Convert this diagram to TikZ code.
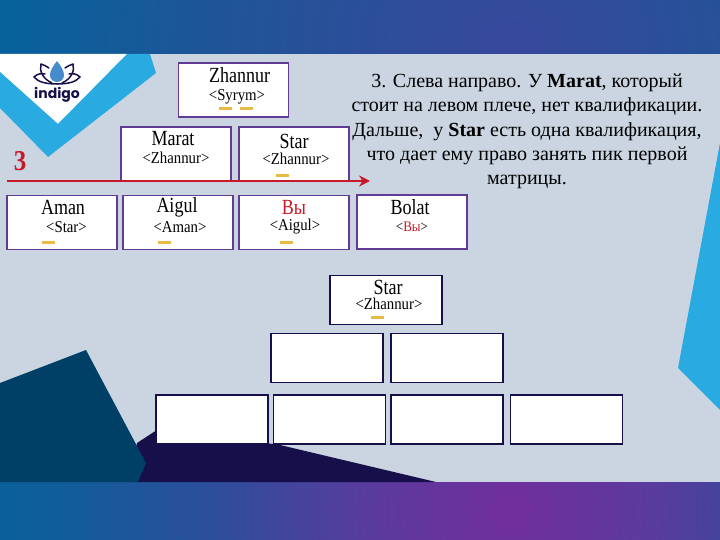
\documentclass[tikz,border=0pt]{standalone}
\usepackage{fontspec}
\setmainfont{Liberation Serif}
\newfontfamily\logofont{Poppins}
\usepackage{xcolor}
\usepackage{tikz}
\usetikzlibrary{arrows.meta, positioning, calc}
\definecolor{mypaper}{RGB}{202,213,225}
\definecolor{mysky}{RGB}{41,171,226}
\definecolor{myteal}{RGB}{0,63,102}
\definecolor{mynavy}{RGB}{23,15,73}
\definecolor{myband}{RGB}{0,101,155}
\definecolor{myviolet}{RGB}{98,60,148}
\definecolor{myred}{RGB}{200,25,40}
\definecolor{myamber}{RGB}{232,186,70}
\definecolor{mydrop}{RGB}{70,140,205}
\definecolor{topa}{RGB}{56,72,156}
\definecolor{topb}{RGB}{32,84,152}
\definecolor{bota}{RGB}{114,46,156}
\definecolor{botb}{RGB}{90,59,158}
\definecolor{botc}{RGB}{45,78,154}
\definecolor{botd}{RGB}{18,92,154}
\pgfdeclareradialshading{topglow}{\pgfpoint{0bp}{0bp}}{
  color(0bp)=(topa); color(11.8bp)=(topb); color(23.6bp)=(myband); color(50bp)=(myband)}
\pgfdeclareradialshading{bottomglow}{\pgfpoint{0bp}{0bp}}{
  color(0bp)=(bota); color(5.9bp)=(botb); color(12.4bp)=(botc);
  color(18.3bp)=(botd); color(24.7bp)=(myband); color(50bp)=(myband)}
\tikzset{
  box/.style={rectangle, draw=myviolet, fill=white, line width=1.5pt,
    minimum width=110pt, minimum height=54pt, inner sep=0pt},
  darkbox/.style={box, draw=mynavy, minimum width=112pt, minimum height=49pt},
  namelab/.style={font=\fontsize{18}{18}\selectfont, inner sep=0pt, yscale=1.2, transform shape},
  quallab/.style={font=\fontsize{14.8}{15}\selectfont, inner sep=0pt, yscale=1.12, transform shape},
  dashbar/.style={fill=myamber, draw=none},
  petal/.style={mynavy, line width=1.5pt, line cap=round, line join=round},
  arrow/.style={-{Stealth[length=11pt,width=11pt]}, line width=2.4pt, color=myred}
}
\begin{document}
\begin{tikzpicture}[x=1pt, y=-1pt]
  \useasboundingbox (0,0) rectangle (720,540);

  % Background and bands
  \fill[mypaper] (0,0) rectangle (720,540);
  \begin{scope}
    \clip (0,0) rectangle (720,54);
    \shade[shading=topglow] (510,54) circle (600);
  \end{scope}
  \begin{scope}
    \clip (0,482) rectangle (720,540);
    \shade[shading=bottomglow] (510,510) circle (600);
  \end{scope}

  % Corner shapes
  \fill[mynavy] (130,482) -- (137,443) -- (160,428) -- (280,445) -- (436,482) -- cycle;
  \fill[myteal] (0,383) -- (86,350) -- (146,463) -- (138,482) -- (0,482) -- cycle;
  \fill[mysky] (720,143) -- (678,368) -- (720,410) -- cycle;

  % Logo
  \fill[white] (0,54) -- (127,54) -- (58,124) -- (0,72) -- cycle;
  \fill[mysky] (127,54) -- (150,54) -- (156,73) -- (48,157) -- (0,108) -- (0,72)
    -- (58,124) -- cycle;
  \fill[mydrop] (57,61) .. controls (53,66) and (50,71) .. (50,75)
    .. controls (50,79) and (53,82) .. (57,82)
    .. controls (61,82) and (64,79) .. (64,75)
    .. controls (64,71) and (61,66) .. (57,61) -- cycle;
  \foreach \s in {1,-1} {
    \begin{scope}[shift={(57,0)}, xscale=\s]
      \draw[petal] (0,84) .. controls (-11,84) and (-19,82) .. (-23,77)
        .. controls (-20,74) and (-16,73) .. (-12,74);
      \draw[petal] (-8,68) .. controls (-11,66) and (-13,65) .. (-16,64)
        .. controls (-18,71) and (-14,79) .. (-5,83);
    \end{scope}
  }
  \node[font=\logofont\bfseries\fontsize{14}{14}\selectfont, color=mynavy, inner sep=0pt]
    (logotext) at (57,94.5) {indigo};

  % Upper matrix
  \node[box] (zhannur) at (233.5,90) {};
  \node[box] (marat) at (176,154) {};
  \node[box] (star) at (294,154) {};
  \node[box] (aman) at (62,222.5) {};
  \node[box] (aigul) at (178,222.5) {};
  \node[box] (you) at (294,222.5) {};
  \node[box] (bolat) at (412,222) {};

  % Lower matrix
  \node[darkbox] (top) at (386,300) {};
  \node[darkbox] (leftone) at (327,358) {};
  \node[darkbox] (rightone) at (447,358) {};
  \node[darkbox] (slotone) at (212,419.5) {};
  \node[darkbox] (slottwo) at (329.5,419.5) {};
  \node[darkbox] (slotthree) at (447,419.5) {};
  \node[darkbox] (slotfour) at (566.5,419.5) {};

  % Names and sponsors
  \foreach \n/\x/\y/\t in {nzh/239.5/75/Zhannur, nma/173/139/Marat, nst/294/141.5/Star,
      nam/63/207/Aman, nai/177/207/Aigul, nbo/410/207/Bolat, nlo/388/287/Star} {
    \node[namelab] (\n) at (\x,\y) {\t};
  }
  \node[namelab, color=myred] (nyo) at (294,207) {Вы};
  \foreach \n/\x/\y/\t in {qzh/237/97/Syrym, qma/176/158/Zhannur, qst/296/159/Zhannur,
      qam/66.5/227/Star, qai/180/227/Aman, qyo/295/227/Aigul, qlo/389/304/Zhannur} {
    \node[quallab] (\n) at (\x,\y) {<\t>};
  }
  \node[quallab, font=\fontsize{13}{14}\selectfont] (qbo) at (412,227) {<\textcolor{myred}{Вы}>};

  % Qualification marks
  \foreach \x/\y in {219/109, 240/109, 276/176, 42/242, 158/242, 280/242, 371/317} {
    \fill[dashbar] (\x,\y-1.5) rectangle (\x+13,\y+1.5);
  }

  % Arrow
  \node[font=\bfseries\fontsize{25}{25}\selectfont, color=myred, inner sep=0pt, yscale=1.15, transform shape]
    (three) at (20,161) {3};
  \coordinate (arrowstart) at (7,181);
  \coordinate (arrowend) at (370,181);
  \draw[arrow] (arrowstart) -- (arrowend);

  % Explanation
  \node[font=\fontsize{20}{24.3}\selectfont, align=center, inner sep=0pt] (explain) at (527,131.5) {%
    3. Слева направо. У \textbf{Marat}, который\\
    стоит на левом плече, нет квалификации.\\
    Дальше,~ у \textbf{Star} есть одна квалификация,\\
    что дает ему право занять пик первой\\
    матрицы.};
\end{tikzpicture}
\end{document}
